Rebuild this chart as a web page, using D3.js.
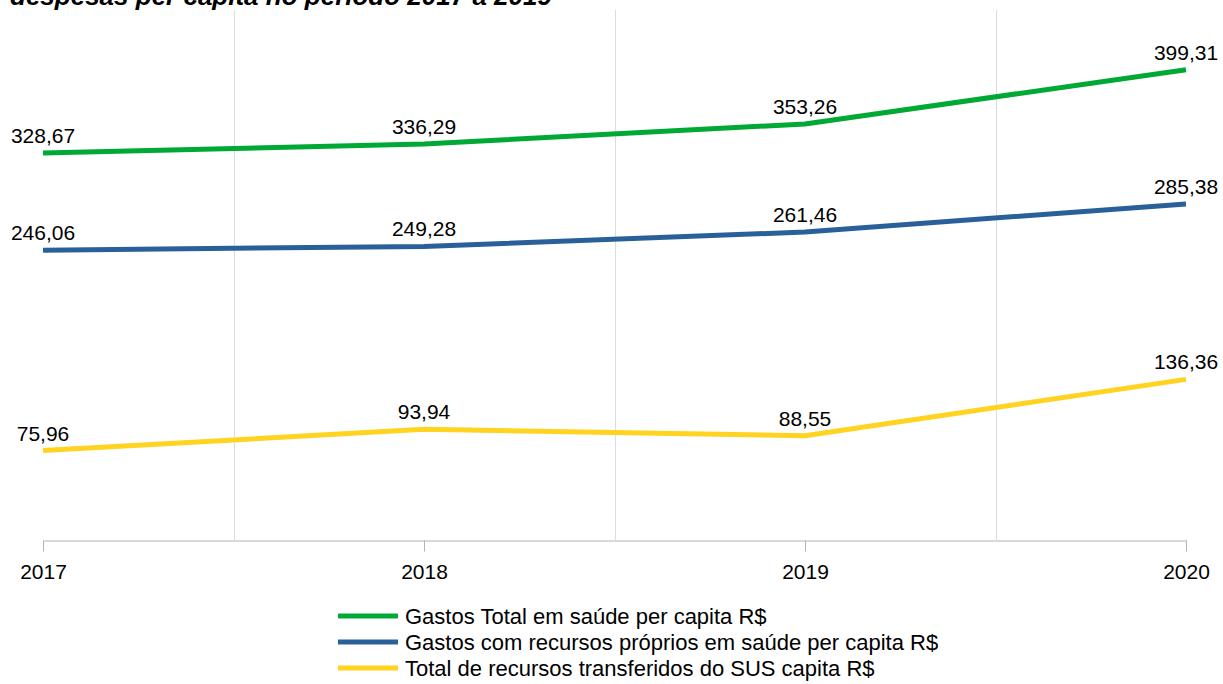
<!DOCTYPE html>
<html>
<head>
<meta charset="utf-8">
<script src="https://cdn.jsdelivr.net/npm/d3@7"></script>
<style>
  body { margin: 0; background: #fff; }
  svg { display: block; font-family: 'Liberation Sans', Arial, sans-serif; }
</style>
</head>
<body>
<svg id="chart"></svg>
<script>
const width = 1223
const height = 684

const years = ['2017', '2018', '2019', '2020']
const seriesNames = [
  'Gastos Total em saúde per capita R$',
  'Gastos com recursos próprios em saúde per capita R$',
  'Total de recursos transferidos do SUS capita R$'
]
const totalValues = [328.67, 336.29, 353.26, 399.31]
const propriosValues = [246.06, 249.28, 261.46, 285.38]
const susValues = [75.96, 93.94, 88.55, 136.36]
const colors = ['#00a933', '#2a6099', '#ffd320']

const series = [totalValues, propriosValues, susValues].map((values, i) => ({
  name: seriesNames[i],
  color: colors[i],
  values: values.map((v, j) => ({ year: years[j], value: v }))
}))

const svg = d3.select('#chart')
  .attr('width', width)
  .attr('height', height)

// point positions for categories
const x = d3.scalePoint()
  .domain(years)
  .range([43, 1186])

const y = d3.scaleLinear()
  .domain([0, 450])
  .range([540, 10])

// title (partly cut off at top, as in the source)
svg.append('text')
  .attr('x', 10)
  .attr('y', 5)
  .attr('font-size', '26px')
  .attr('font-style', 'italic')
  .attr('font-weight', 'bold')
  .attr('fill', '#000')
  .text('despesas per capita no período 2017 a 2019')

// vertical grid lines between categories
const step = x.step()
svg.append('g')
  .selectAll('line')
  .data(years.slice(0, -1))
  .enter()
  .append('line')
  .attr('x1', d => Math.round(x(d) + step / 2) + 0.5)
  .attr('x2', d => Math.round(x(d) + step / 2) + 0.5)
  .attr('y1', y(450))
  .attr('y2', y(0))
  .attr('stroke', '#dddddd')
  .attr('stroke-width', 1)

// x axis
const xAxis = svg.append('g')
  .attr('transform', `translate(0, ${y(0) + 0.5})`)
  .call(d3.axisBottom(x).tickSize(11).tickSizeOuter(0).tickPadding(13))
xAxis.select('.domain').attr('stroke', '#b3b3b3')
xAxis.selectAll('.tick line').attr('stroke', '#b3b3b3')
xAxis.selectAll('.tick text')
  .attr('font-size', '21px')
  .attr('font-family', 'Liberation Sans, Arial, sans-serif')
  .attr('fill', '#000')

const line = d3.line()
  .x(d => x(d.year))
  .y(d => y(d.value))

const fmt = v => d3.format('.2f')(v).replace('.', ',')

series.forEach(s => {
  svg.append('path')
    .datum(s.values)
    .attr('d', line)
    .attr('fill', 'none')
    .attr('stroke', s.color)
    .attr('stroke-width', 5)
    .attr('stroke-linejoin', 'round')

  svg.append('g')
    .selectAll('text')
    .data(s.values)
    .enter()
    .append('text')
    .attr('x', d => x(d.year))
    .attr('y', d => y(d.value) - 10)
    .attr('text-anchor', 'middle')
    .attr('font-size', '21px')
    .attr('fill', '#000')
    .text(d => fmt(d.value))
})

// legend
const legend = svg.append('g')
  .attr('transform', 'translate(338, 616)')

series.forEach((s, i) => {
  const item = legend.append('g')
    .attr('transform', `translate(0, ${i * 26})`)
  item.append('line')
    .attr('x1', 0)
    .attr('x2', 60)
    .attr('y1', 0)
    .attr('y2', 0)
    .attr('stroke', s.color)
    .attr('stroke-width', 5)
  item.append('text')
    .attr('x', 67)
    .attr('y', 0)
    .attr('dy', '0.35em')
    .attr('font-size', '22px')
    .attr('fill', '#000')
    .text(s.name)
})
</script>
</body>
</html>
